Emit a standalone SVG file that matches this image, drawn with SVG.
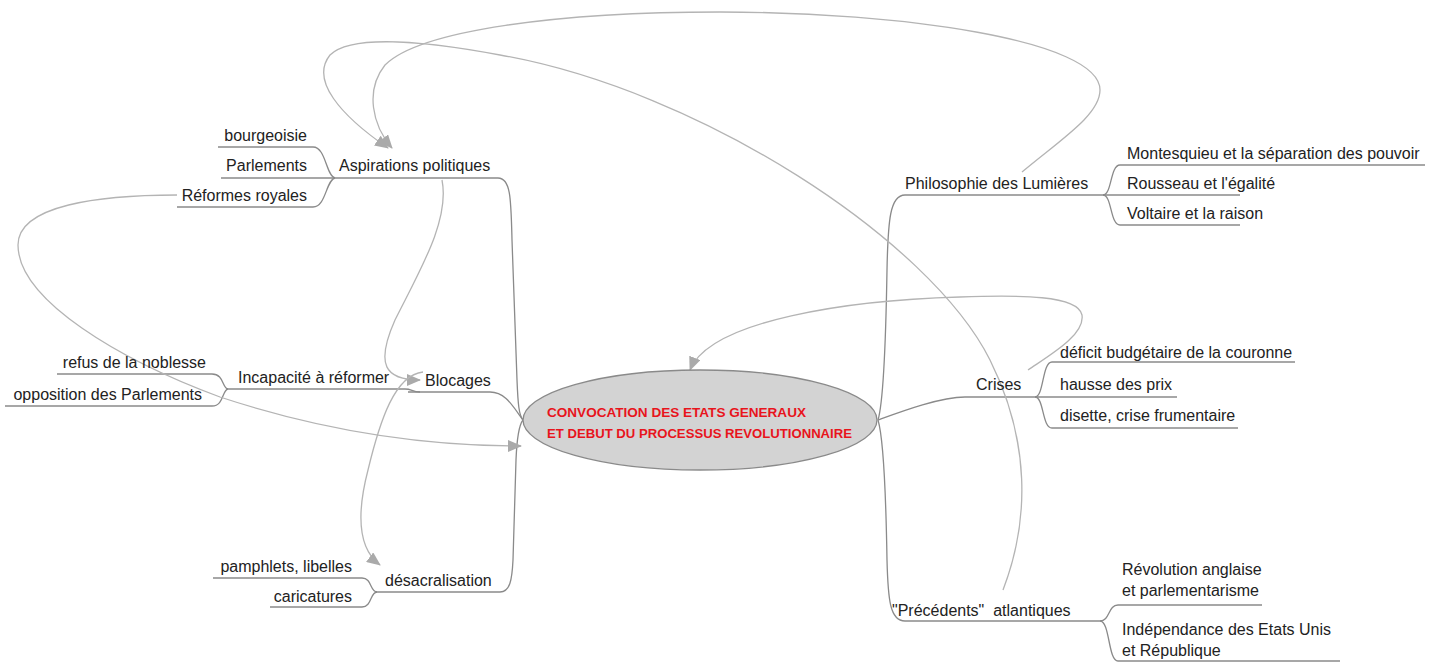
<svg xmlns="http://www.w3.org/2000/svg" width="1441" height="663" viewBox="0 0 1441 663">
<defs>
<style>
.t{font-family:"Liberation Sans",Arial,sans-serif;font-size:16px;fill:#222}
.e{stroke:#8a8a8a;stroke-width:1.3;fill:none}
.l{stroke:#b4b4b4;stroke-width:1.3;fill:none;marker-end:url(#ah)}
.c{font-family:"Liberation Sans",Arial,sans-serif;font-size:13.5px;font-weight:bold;fill:#e8141c}
</style>
<marker id="ah" markerWidth="14" markerHeight="12" refX="13" refY="6" orient="auto" markerUnits="userSpaceOnUse">
<path d="M0,0 L14,6 L0,12 Z" fill="#aaaaaa"/>
</marker>
</defs>
<rect width="1441" height="663" fill="#ffffff"/>
<g id="connectors">
<path class="e" d="M333,178 H498 C511,178 511,200 512,240 L517,380 C518,405 519,415 523,420"/>
<path class="e" d="M218,147 H313 C326,147 326,176 335,178"/>
<path class="e" d="M221,178 H335"/>
<path class="e" d="M177,207 H313 C326,207 326,180 335,178"/>
<path class="e" d="M226,389 H405 C412,389 412,392 420,392"/>
<path class="e" d="M408,392 H490 C505,392 512,405 523,420"/>
<path class="e" d="M57,374 H212 C224,374 222,388 228,389"/>
<path class="e" d="M5,406 H212 C224,406 222,390 228,389"/>
<path class="e" d="M375,592 H500 C510,592 512,580 513,560 L516,460 C517,435 519,425 523,420"/>
<path class="e" d="M213,578 H362 C372,578 370,592 377,592"/>
<path class="e" d="M270,607 H362 C372,607 370,592 377,592"/>
<path class="e" d="M878,420 C884,400 886,330 887,270 C888,220 890,195 905,195 H1103"/>
<path class="e" d="M1103,195 C1112,195 1110,165 1120,165 H1425"/>
<path class="e" d="M1103,195 H1240"/>
<path class="e" d="M1103,195 C1112,195 1110,225 1120,225 H1240"/>
<path class="e" d="M878,420 C900,412 940,397 965,397 H1035"/>
<path class="e" d="M1035,397 C1044,397 1042,362 1052,362 H1295"/>
<path class="e" d="M1035,397 H1177"/>
<path class="e" d="M1035,397 C1044,397 1042,428 1052,428 H1238"/>
<path class="e" d="M878,420 C884,440 886,500 887,560 C888,600 890,621 905,621 H1100"/>
<path class="e" d="M1100,621 C1110,621 1108,605 1118,605 H1262"/>
<path class="e" d="M1100,621 C1110,621 1108,661 1118,661 H1340"/>
<path class="l" d="M1022,172 C1060,140 1100,115 1100,90 C1100,40 900,12 720,12 C560,12 420,30 385,65 C365,90 372,125 392,148"/>
<path class="l" d="M1003,590 C1030,520 1030,440 990,360 C930,240 700,90 500,55 C420,40 350,35 330,55 C310,80 340,115 388,148"/>
<path class="l" d="M1028,370 C1050,355 1085,335 1082,315 C1078,295 1020,295 960,297 C850,300 710,320 690,370"/>
<path class="l" d="M442,180 C450,220 420,270 395,320 C375,365 385,380 420,380"/>
<path class="l" d="M423,372 C395,375 380,420 368,470 C355,520 360,550 380,565"/>
<path class="l" d="M177,195 C100,195 18,205 18,245 C18,300 120,360 220,397 C320,430 420,446 521,446"/>
</g>
<g id="center">
<ellipse cx="700" cy="420" rx="177" ry="50" fill="#d3d3d3" stroke="#8a8a8a" stroke-width="1.3"/>
<text class="c" x="547" y="417" textLength="259" lengthAdjust="spacingAndGlyphs">CONVOCATION DES ETATS GENERAUX</text>
<text class="c" x="547" y="438" textLength="305" lengthAdjust="spacingAndGlyphs">ET DEBUT DU PROCESSUS REVOLUTIONNAIRE</text>
</g>
<g id="aspirations"><text class="t" x="339" y="171">Aspirations politiques</text></g>
<g id="bourgeoisie"><text class="t" x="307" y="141" text-anchor="end">bourgeoisie</text></g>
<g id="parlements"><text class="t" x="307" y="171" text-anchor="end">Parlements</text></g>
<g id="reformes"><text class="t" x="307" y="201" text-anchor="end">Réformes royales</text></g>
<g id="blocages"><text class="t" x="425" y="386">Blocages</text></g>
<g id="incapacite"><text class="t" x="238" y="383">Incapacité à réformer</text></g>
<g id="refus"><text class="t" x="206" y="368" text-anchor="end">refus de la noblesse</text></g>
<g id="opposition"><text class="t" x="202" y="400" text-anchor="end">opposition des Parlements</text></g>
<g id="desacralisation"><text class="t" x="385" y="586">désacralisation</text></g>
<g id="pamphlets"><text class="t" x="352" y="572" text-anchor="end">pamphlets, libelles</text></g>
<g id="caricatures"><text class="t" x="352" y="602" text-anchor="end">caricatures</text></g>
<g id="philosophie"><text class="t" x="905" y="189">Philosophie des Lumières</text></g>
<g id="montesquieu"><text class="t" x="1127" y="159">Montesquieu et la séparation des pouvoir</text></g>
<g id="rousseau"><text class="t" x="1127" y="189">Rousseau et l'égalité</text></g>
<g id="voltaire"><text class="t" x="1127" y="219">Voltaire et la raison</text></g>
<g id="crises"><text class="t" x="976" y="390">Crises</text></g>
<g id="deficit"><text class="t" x="1060" y="358">déficit budgétaire de la couronne</text></g>
<g id="hausse"><text class="t" x="1060" y="390">hausse des prix</text></g>
<g id="disette"><text class="t" x="1060" y="421">disette, crise frumentaire</text></g>
<g id="precedents"><text class="t" x="892" y="616" xml:space="preserve">"Précédents"  atlantiques</text></g>
<g id="revolution"><text class="t" x="1122" y="575">Révolution anglaise</text><text class="t" x="1122" y="596">et parlementarisme</text></g>
<g id="independance"><text class="t" x="1122" y="635">Indépendance des Etats Unis</text><text class="t" x="1122" y="656">et République</text></g>
</svg>
